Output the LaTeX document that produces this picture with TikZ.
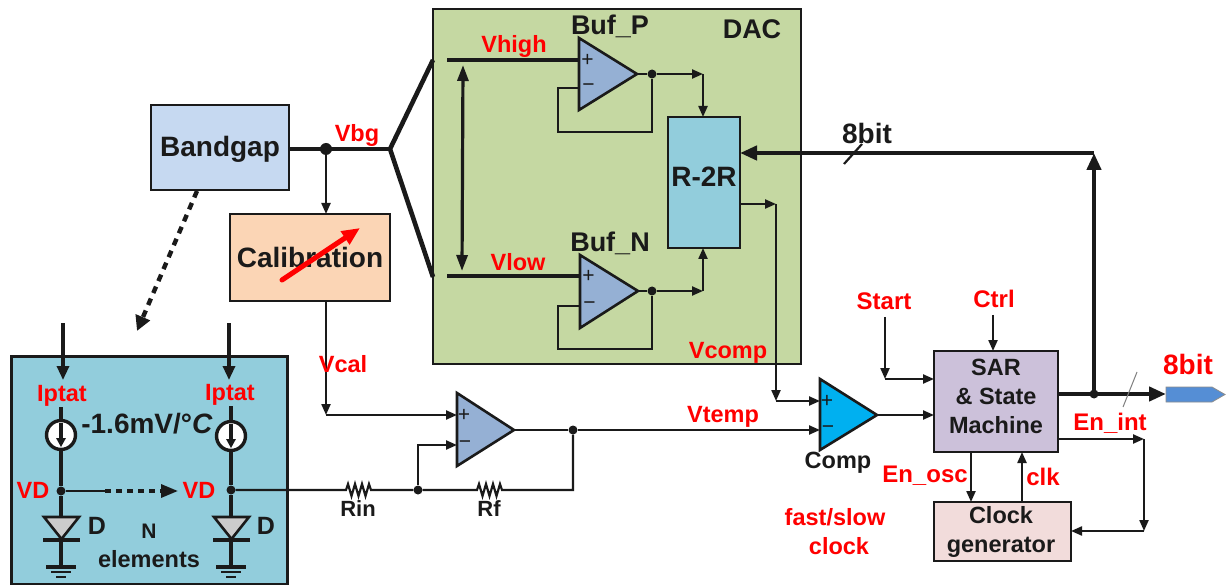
\documentclass[tikz,border=0pt]{standalone}
\usepackage{fontspec}
\setmainfont{Liberation Sans}
\usetikzlibrary{arrows.meta,calc}
\definecolor{ink}{HTML}{1A1A1A}
\definecolor{dacfill}{HTML}{C5D8A2}
\definecolor{ampfill}{HTML}{95B0D4}
\definecolor{tealfill}{HTML}{92CDDC}
\definecolor{bgfill}{HTML}{C6D9F1}
\definecolor{calfill}{HTML}{FBD5B5}
\definecolor{sarfill}{HTML}{CCC1DA}
\definecolor{clkfill}{HTML}{F2DCDB}
\definecolor{compfill}{HTML}{00B0F0}
\definecolor{outfill}{HTML}{558ED5}
\definecolor{redtxt}{HTML}{FF0000}
\tikzset{
  block/.style={draw=ink,line width=2.6pt,inner sep=0pt,outer sep=0pt},
  wire/.style={draw=ink,line width=2.2pt,line join=miter},
  midwire/.style={draw=ink,line width=3.2pt},
  bus/.style={draw=ink,line width=4.6pt},
  arr/.style={-{Triangle[length=11pt,width=9pt]}},
  bigarr/.style={-{Triangle[length=17pt,width=14pt]}},
  amp/.style={draw=ink,line width=2.6pt,line join=miter},
  dotn/.style={circle,fill=ink,inner sep=0pt,minimum size=9pt},
  txt/.style={inner sep=0pt,outer sep=0pt,anchor=base,yshift={-0.36*#1},font=\bfseries\fontsize{#1}{#1}\selectfont,text=ink},
  rtxt/.style={inner sep=0pt,outer sep=0pt,anchor=base,yshift={-0.36*#1},font=\bfseries\fontsize{#1}{#1}\selectfont,text=redtxt},
  sign/.style={inner sep=0pt,outer sep=0pt,text=ink,font=\fontsize{21}{21}\selectfont},
}
\newcommand{\myresistor}[1]{%
  -- ++(1,0) -- ++(2,-6) -- ++(3.5,12) -- ++(3.5,-12) -- ++(3.5,12) -- ++(3.5,-12) -- ++(3.5,12) -- ++(3.5,-12) -- ++(2,6) -- ++(1,0) coordinate (#1)}
\newcommand{\myground}[1]{%
  \draw[midwire] ($(#1)+(-15,0)$) -- ($(#1)+(15,0)$);
  \draw[wire] ($(#1)+(-10,5)$) -- ($(#1)+(10,5)$);
  \draw[wire] ($(#1)+(-5,10)$) -- ($(#1)+(5,10)$);}
\begin{document}
\begin{tikzpicture}[x=1pt,y=-1pt]
\useasboundingbox (0,0) rectangle (1226,585);

% Boxes
\node[block,fill=dacfill,minimum width=368pt,minimum height=355pt] (dac) at (617,186.5) {};
\node[block,line width=3pt,fill=tealfill,minimum width=276pt,minimum height=228pt] (sensor) at (149,470) {};
\node[block,fill=bgfill,minimum width=138pt,minimum height=85pt] (bandgap) at (220,147.5) {};
\node[block,fill=calfill,minimum width=160pt,minimum height=87pt] (calib) at (310,257.5) {};
\node[block,fill=tealfill,minimum width=72pt,minimum height=131pt] (r2r) at (704,182.5) {};
\node[block,fill=sarfill,minimum width=124pt,minimum height=101pt] (sar) at (996,401.5) {};
\node[block,fill=clkfill,minimum width=137pt,minimum height=59pt] (clkgen) at (1002.5,531.5) {};

% Op amps
\draw[amp,fill=ampfill] (579,38) coordinate (pTop) -- (637,74) coordinate (pOut) -- (579,110) -- cycle;
\draw[amp,fill=ampfill] (580,255) -- (638,291) coordinate (nOut) -- (580,328) -- cycle;
\draw[amp,fill=ampfill] (457,393) -- (514,430) coordinate (sOut) -- (457,466) -- cycle;
\draw[amp,fill=compfill] (820,379) -- (877,415) coordinate (cOut) -- (820,450) -- cycle;
\coordinate (pPlus) at (579,60);  \coordinate (pMinus) at (579,88);
\coordinate (nPlus) at (580,276); \coordinate (nMinus) at (580,306);
\coordinate (sPlus) at (457,415); \coordinate (sMinus) at (457,445);
\coordinate (cPlus) at (820,401); \coordinate (cMinus) at (820,430);
\node[sign] (sp1) at (587.5,60) {+}; \node[sign] (sm1) at (588.5,88) {−};
\node[sign] (sp2) at (588.5,276.5) {+}; \node[sign] (sm2) at (589.5,306) {−};
\node[sign] (sp3) at (464,415.5) {+}; \node[sign] (sm3) at (465,445) {−};
\node[sign] (sp4) at (827,401.5) {+}; \node[sign] (sm4) at (828,430) {−};

% Bandgap output and fan-out
\coordinate (fan) at (390,149);
\coordinate (vhighStart) at (433,60);
\coordinate (vlowStart) at (433,277);
\node[dotn,minimum size=12pt] (bgdot) at (326,149) {};
\draw[bus] (bandgap.east |- fan) -- (fan);
\draw[bus,line join=miter] (vhighStart) -- (fan) -- (vlowStart);
\draw[wire,arr] (bgdot) -- (calib.north -| bgdot);
\draw[line width=4.4pt,draw=ink,dash pattern=on 7pt off 6pt,-{Triangle[length=15pt,width=15pt]}] (197,191) -- (137,331);

% Red trimming arrow on Calibration
\coordinate (trimA) at (282,280);
\coordinate (trimB) at (360,228);

% DAC wiring
\coordinate (vhighL) at (447,60);
\coordinate (vlowL) at (447,276);
\draw[midwire] (vhighL) -- (pPlus);
\draw[midwire] (vlowL) -- (nPlus);
\draw[midwire,{Triangle[length=16pt,width=11pt]}-{Triangle[length=16pt,width=11pt]}] (463,65) -- (462,271);
\node[dotn] (pDot) at (652,74) {};
\node[dotn] (nDot) at (652,291) {};
\coordinate (pCorner) at (703,74);
\coordinate (nCorner) at (703,291);
\draw[wire] (pMinus) -- (558,88) -- (558,132) -- (652,132) -- (pDot);
\draw[wire] (nMinus) -- (558,306) -- (558,349) -- (652,349) -- (nDot);
\draw[wire] (pOut) -- (pDot);
\draw[wire] (nOut) -- (nDot);
\draw[wire,arr] (pDot) -- (pCorner);
\draw[wire,arr] (nDot) -- (nCorner);
\draw[wire,arr] (pCorner) -- (r2r.north -| pCorner);
\draw[wire,arr] (nCorner) -- (r2r.south -| nCorner);

% R-2R output to comparator
\coordinate (rOut) at (740,204);
\coordinate (vcTop) at (776,204);
\coordinate (vcBot) at (776,401);
\draw[wire,arr] (rOut) -- (vcTop);
\draw[wire,arr] (vcTop) -- (vcBot);
\draw[wire,arr] (vcBot) -- (cPlus);

% Calibration to sense amp
\coordinate (calBot) at (326,415);
\draw[wire,arr] (calib.south -| calBot) -- (calBot);
\draw[wire,arr] (calBot) -- (sPlus);

% Sense amp feedback
\node[dotn] (vtDot) at (573,430) {};
\node[dotn] (fbDot) at (418,490) {};
\node[dotn] (lVD) at (61,491) {};
\node[dotn] (rVD) at (231,490) {};
\draw[wire] (sOut) -- (vtDot);
\draw[wire,arr] (vtDot) -- (cMinus);
\draw[wire,arr] (fbDot) -- (418,445) -- (sMinus);
\draw[wire] (rVD) -- (345,490) \myresistor{rinR} -- (fbDot);
\draw[wire] (fbDot) -- (476,490) \myresistor{rfR} -- (573,490) -- (vtDot);

% Sensor block
\node[draw=ink,line width=3.4pt,fill=white,circle,inner sep=0pt,minimum size=29pt] (csL) at (61,435) {};
\node[draw=ink,line width=3.4pt,fill=white,circle,inner sep=0pt,minimum size=29pt] (csR) at (231,436) {};
\draw[midwire,-{Triangle[length=9pt,width=9pt]}] ($(csL.north)+(0,4)$) -- ($(csL.south)+(0,-4)$);
\draw[midwire,-{Triangle[length=9pt,width=9pt]}] ($(csR.north)+(0,4)$) -- ($(csR.south)+(0,-4)$);
\draw[midwire,-{Triangle[length=14pt,width=12pt]}] (63,323) -- (63,380);
\draw[midwire,-{Triangle[length=14pt,width=12pt]}] (229,323) -- (229,380);
\coordinate (lDtop) at (61,517); \coordinate (rDtop) at (231,517);
\coordinate (lG) at (61,567); \coordinate (rG) at (231,567);
\draw[midwire] (61,407) -- (csL.north);
\draw[midwire] (231,406) -- (csR.north);
\draw[midwire] (csL.south) -- (lVD);
\draw[midwire] (csR.south) -- (rVD);
\draw[midwire] (lVD) -- (lDtop);
\draw[midwire] (rVD) -- (rDtop);
\draw[midwire] (61,540) -- (lG);
\draw[midwire] (231,540) -- (rG);
\draw[amp,fill=black!20] (44,517) -- (79,517) -- (61.5,539) -- cycle;
\draw[amp,fill=black!20] (214,517) -- (249,517) -- (231.5,539) -- cycle;
\draw[midwire] (43,540) -- (80,540);
\draw[midwire] (213,540) -- (250,540);
\myground{lG}
\myground{rG}
\draw[wire] (lVD) -- (105,491);
\draw[midwire,dash pattern=on 6pt off 5pt] (105,491) -- (160,491);
\draw[midwire,-{Triangle[length=17pt,width=13pt]}] (160,491) -- (178,491);

% SAR wiring
\coordinate (stTop) at (885,317);
\coordinate (stBot) at (885,379);
\draw[wire,arr] (stTop) -- (stBot);
\draw[wire,arr] (stBot) -- (sar.west |- stBot);
\coordinate (ctTop) at (993,315);
\draw[wire,arr] (ctTop) -- (sar.north -| ctTop);
\draw[wire,arr] (cOut) -- (sar.west |- cOut);
\draw[wire,arr] (971,452) -- (971,502);
\draw[wire,arr] (1022,502) -- (1022,452);
\coordinate (enA) at (1058,439);
\coordinate (enB) at (1144,439);
\coordinate (enC) at (1144,531);
\draw[wire,arr] (enA) -- (enB);
\draw[wire,arr] (enB) -- (enC);
\draw[wire,arr] (enC) -- (clkgen.east |- enC);

% Digital output bus
\coordinate (busJ) at (1094,394);
\coordinate (busTop) at (1094,153);
\coordinate (outTip) at (1166,394);
\draw[draw=black!45,line width=.8pt,fill=outfill] (1166,387) -- (1212,387) -- (1225,394.5) -- (1212,402) -- (1166,402) -- cycle;
\draw[bus,bigarr] (sar.east |- busJ) -- (outTip);
\draw[bus,bigarr] (busJ) -- (busTop);
\draw[bus,bigarr] (busTop) -- (r2r.east |- busTop);
\node[dotn] (busDot) at (busJ) {};
\draw[wire] (844,164) -- (862,144);
\draw[draw=black!50,line width=1pt] (1137,372) -- (1123,407);

% Labels, black
\node[txt=28] (lbBandgap) at (220,146) {Bandgap};
\node[txt=28] (lbCal) at (310,257) {Calibration};
\draw[line width=5pt,draw=redtxt,line cap=round,-{Triangle[length=18pt,width=15pt]}] (trimA) -- (trimB);
\node[txt=28] (lbR2R) at (704,176) {R-2R};
\node[txt=27] (lbBufP) at (610,25) {Buf\_P};
\node[txt=27] (lbBufN) at (610,242) {Buf\_N};
\node[txt=27] (lbDAC) at (752,29) {DAC};
\node[txt=28] (lb8a) at (867,133) {8bit};
\node[txt=23.5] (lbComp) at (838,460) {Comp};
\node[txt=22] (lbRin) at (358,509) {Rin};
\node[txt=22] (lbRf) at (489,509) {Rf};
\node[txt=28] (lbMv) at (147,423) {-1.6mV/°\textit{C}};
\node[txt=25] (lbD1) at (97,525) {D};
\node[txt=25] (lbD2) at (266,525) {D};
\node[txt=21] (lbN) at (149,531) {N};
\node[txt=23.5] (lbEl) at (149,559) {elements};
\node[txt=23.5] (lbSar1) at (996,367) {SAR};
\node[txt=23.5] (lbSar2) at (996,396) {\& State};
\node[txt=23.5] (lbSar3) at (996,425) {Machine};
\node[txt=23.5] (lbClk1) at (1001,515) {Clock};
\node[txt=23.5] (lbClk2) at (1001,544) {generator};

% Labels, red
\node[rtxt=23.5] (lbVbg) at (357,133) {Vbg};
\node[rtxt=23.5] (lbVhigh) at (514,44) {Vhigh};
\node[rtxt=23.5] (lbVlow) at (518,262) {Vlow};
\node[rtxt=23.5] (lbVcomp) at (728,350) {Vcomp};
\node[rtxt=23.5] (lbVcal) at (343,364) {Vcal};
\node[rtxt=23.5] (lbVtemp) at (723,414) {Vtemp};
\node[rtxt=23.5] (lbIp1) at (62,393) {Iptat};
\node[rtxt=23.5] (lbIp2) at (230,392) {Iptat};
\node[rtxt=23.5] (lbVD1) at (33,490) {VD};
\node[rtxt=23.5] (lbVD2) at (199,490) {VD};
\node[rtxt=24] (lbStart) at (884,301) {Start};
\node[rtxt=24] (lbCtrl) at (994,299) {Ctrl};
\node[rtxt=28] (lb8b) at (1188,364) {8bit};
\node[rtxt=24] (lbEnint) at (1110,422) {En\_int};
\node[rtxt=24] (lbEnosc) at (925,474) {En\_osc};
\node[rtxt=24] (lbClk) at (1043,477) {clk};
\node[rtxt=23.5] (lbFast) at (835,517) {fast/slow};
\node[rtxt=23.5] (lbClock) at (839,546) {clock};
\end{tikzpicture}
\end{document}
